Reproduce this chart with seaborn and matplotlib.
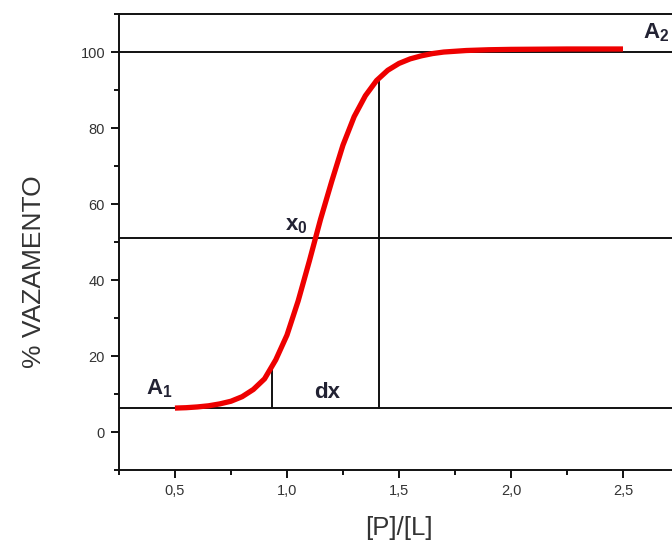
import matplotlib
matplotlib.use("Agg")
import matplotlib.pyplot as plt
import seaborn as sns
import pandas as pd
from matplotlib.ticker import MultipleLocator, FuncFormatter

# Curve values
ratio = [0.50, 0.55, 0.60, 0.65, 0.70, 0.75, 0.80, 0.85, 0.90, 0.95, 1.00,
         1.05, 1.10, 1.15, 1.20, 1.25, 1.30, 1.35, 1.40, 1.45, 1.50, 1.55,
         1.60, 1.65, 1.70, 1.80, 1.90, 2.00, 2.25, 2.50]
leak = [6.3, 6.4, 6.6, 6.9, 7.4, 8.1, 9.3, 11.2, 14.0, 19.0, 25.5,
        34.5, 45.0, 56.0, 66.0, 75.5, 83.0, 88.5, 92.5, 95.2, 97.0, 98.2,
        99.0, 99.6, 100.0, 100.4, 100.6, 100.7, 100.8, 100.8]

# Reference lines
h_levels = [100.0, 51.0, 6.4]          # A2, x0 level, A1
v_pos = [0.935, 1.41]                  # dx markers
v_tops = [17.0, 93.2]

labels = ["A", "A", "x", "dx"]
subs = ["1", "2", "0", ""]
label_x = [0.37, 2.59, 0.99, 1.12]
label_y = [8.3, 102.0, 51.6, 7.6]

df = pd.DataFrame({"ratio": ratio, "leak": leak})

sns.set_theme(style="ticks")
plt.rcParams["font.family"] = ["Liberation Sans", "DejaVu Sans"]
plt.rcParams["mathtext.fontset"] = "custom"
plt.rcParams["mathtext.rm"] = "Liberation Sans"
plt.rcParams["mathtext.bf"] = "Liberation Sans:bold"

fig = plt.figure(figsize=(6.72, 5.40), dpi=100)
ax = fig.add_axes([0.177, 0.1296, 1.0104 - 0.177, 0.974 - 0.1296])

for h in h_levels:
    ax.axhline(h, color="#111111", lw=1.4, zorder=1)
for xv, top in zip(v_pos, v_tops):
    ax.plot([xv, xv], [h_levels[2], top], color="#111111", lw=1.4, zorder=1)

sns.lineplot(data=df, x="ratio", y="leak", ax=ax, color="#ee0000",
             lw=3.8, zorder=3, solid_capstyle="butt", solid_joinstyle="round")

for t, s, lx, ly in zip(labels, subs, label_x, label_y):
    txt = t if not s else t + r"$_{\mathbf{" + s + "}}$"
    ax.text(lx, ly, txt, fontsize=16, fontweight="bold", color="#222233",
            ha="left", va="bottom", zorder=4)

ax.set_xlim(0.25, 2.75)
ax.set_ylim(-10, 110)
ax.xaxis.set_major_locator(MultipleLocator(0.5))
ax.xaxis.set_minor_locator(MultipleLocator(0.25))
ax.yaxis.set_major_locator(MultipleLocator(20))
ax.yaxis.set_minor_locator(MultipleLocator(10))
ax.xaxis.set_major_formatter(FuncFormatter(lambda v, p: f"{v:.1f}".replace(".", ",")))
ax.yaxis.set_major_formatter(FuncFormatter(lambda v, p: f"{v:.0f}"))

ax.tick_params(which="major", length=6, width=1.4, color="#111111",
               labelsize=10.5, labelcolor="#333333", pad=4, direction="out")
ax.tick_params(which="minor", length=3.5, width=1.4, color="#111111",
               direction="out")

for side in ["left", "bottom", "top"]:
    ax.spines[side].set_color("#111111")
    ax.spines[side].set_linewidth(1.4)
ax.spines["right"].set_visible(False)

ax.set_xlabel("[P]/[L]", fontsize=18.5, color="#333333")
ax.set_ylabel("% VAZAMENTO", fontsize=19, color="#333333")
ax.xaxis.set_label_coords(0.5, -0.1)
ax.yaxis.set_label_coords(-0.13, 0.434)

fig.savefig("out.png", dpi=100, facecolor="white")
